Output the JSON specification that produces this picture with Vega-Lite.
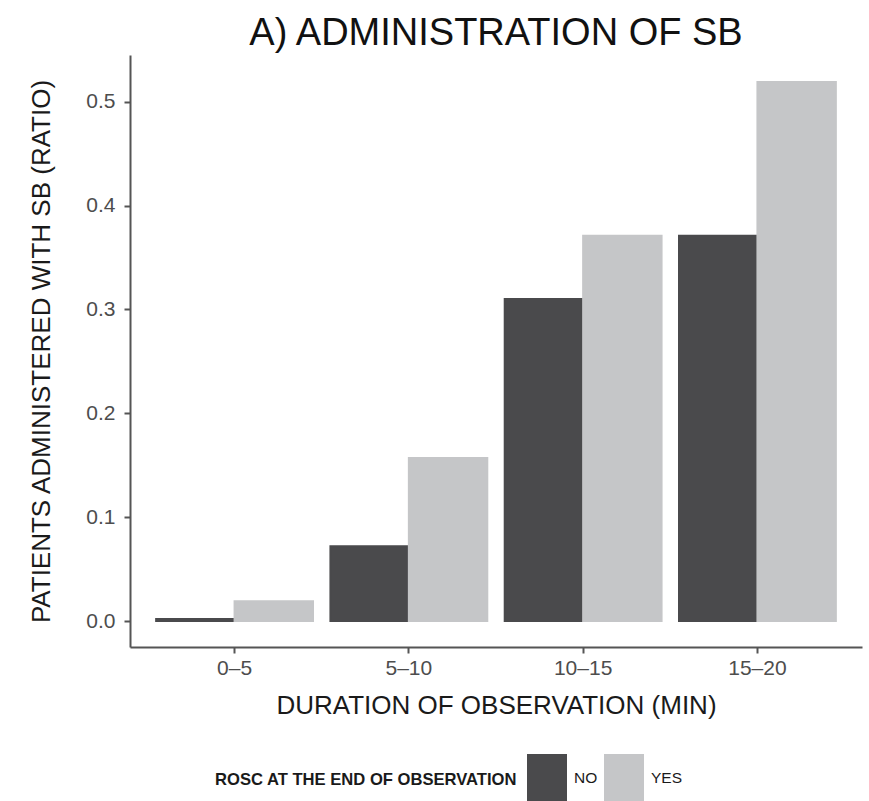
{
  "$schema": "https://vega.github.io/schema/vega-lite/v6.json",
  "autosize": "none",
  "width": 732,
  "height": 592,
  "padding": {"left": 130, "top": 55, "right": 7, "bottom": 154},
  "background": "white",
  "config": {
    "font": "Liberation Sans",
    "view": {"stroke": null}
  },
  "title": {
    "text": "A) ADMINISTRATION OF SB",
    "fontSize": 38,
    "fontWeight": "normal",
    "color": "#111111",
    "anchor": "middle",
    "baseline": "bottom",
    "offset": 2,
    "dy": 38
  },
  "data": {
    "values": [
      {"duration": "0–5", "rosc": "NO", "ratio": 0.002},
      {"duration": "0–5", "rosc": "YES", "ratio": 0.019},
      {"duration": "5–10", "rosc": "NO", "ratio": 0.072},
      {"duration": "5–10", "rosc": "YES", "ratio": 0.157},
      {"duration": "10–15", "rosc": "NO", "ratio": 0.31},
      {"duration": "10–15", "rosc": "YES", "ratio": 0.371},
      {"duration": "15–20", "rosc": "NO", "ratio": 0.371},
      {"duration": "15–20", "rosc": "YES", "ratio": 0.519}
    ]
  },
  "mark": {"type": "bar", "strokeWidth": 2},
  "encoding": {
    "x": {
      "field": "duration",
      "type": "nominal",
      "sort": ["0–5", "5–10", "10–15", "15–20"],
      "scale": {"paddingInner": 0.1, "paddingOuter": 0.15},
      "axis": {
        "title": "DURATION OF OBSERVATION (MIN)",
        "titleFontSize": 26,
        "titleFontWeight": "normal",
        "titleColor": "#1a1a1a",
        "titlePadding": 14,
        "labelAngle": 0,
        "labelFontSize": 21,
        "labelColor": "#4d4d4d",
        "labelPadding": 4,
        "domainColor": "#555555",
        "domainWidth": 2,
        "tickColor": "#555555",
        "tickWidth": 2,
        "tickSize": 6
      }
    },
    "xOffset": {"field": "rosc", "type": "nominal", "sort": ["NO", "YES"], "scale": {"paddingInner": 0, "paddingOuter": 0}},
    "y": {
      "field": "ratio",
      "type": "quantitative",
      "scale": {"domain": [-0.025, 0.545], "nice": false, "zero": false},
      "axis": {
        "title": "PATIENTS ADMINISTERED WITH SB (RATIO)",
        "titleFontSize": 26,
        "titleFontWeight": "normal",
        "titleColor": "#1a1a1a",
        "titlePadding": 31,
        "values": [0, 0.1, 0.2, 0.3, 0.4, 0.5],
        "format": ".1f",
        "labelFontSize": 21,
        "labelColor": "#4d4d4d",
        "labelPadding": 9,
        "domainColor": "#555555",
        "domainWidth": 2,
        "tickColor": "#555555",
        "tickWidth": 2,
        "tickSize": 6,
        "grid": false
      }
    },
    "color": {
      "field": "rosc",
      "type": "nominal",
      "scale": {"domain": ["NO", "YES"], "range": ["#4a4a4c", "#c5c6c8"]},
      "legend": {
        "title": "ROSC AT THE END OF OBSERVATION",
        "orient": "none",
        "legendX": 85,
        "legendY": 703,
        "direction": "horizontal",
        "titleOrient": "left",
        "titleFontSize": 16.6,
        "titleFontWeight": "bold",
        "titleColor": "#1a1a1a",
        "titlePadding": 9,
        "titleBaseline": "middle",
        "titleLimit": 500,
        "labelFontSize": 15.5,
        "labelColor": "#1a1a1a",
        "labelOffset": 7,
        "columnPadding": 6,
        "symbolType": "M-1,-1.2H1V1.2H-1Z",
        "symbolSize": 1600,
        "symbolStrokeWidth": 0,
        "symbolOpacity": 1
      }
    },
    "stroke": {
      "field": "rosc",
      "type": "nominal",
      "scale": {"domain": ["NO", "YES"], "range": ["#4a4a4c", "#c5c6c8"]},
      "legend": null
    }
  }
}
